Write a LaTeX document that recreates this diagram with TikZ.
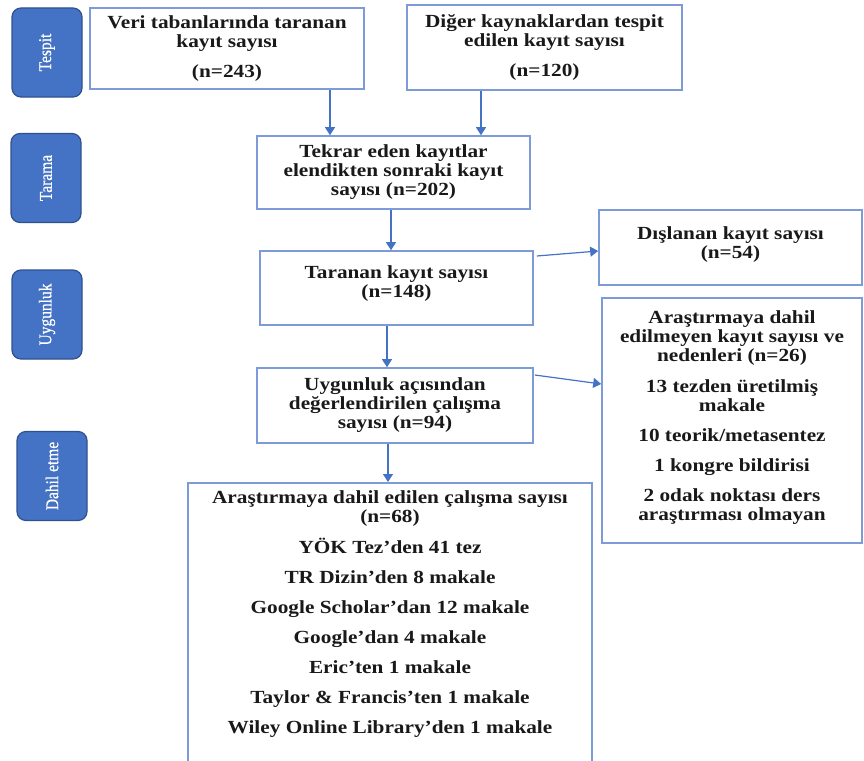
\documentclass[tikz,border=0pt]{standalone}
\usepackage{fontspec}
\setmainfont{Liberation Serif}[FakeStretch=1.15]
\newfontfamily\sidefont{Liberation Serif}[FakeStretch=0.86, FakeBold=0.6]
\usetikzlibrary{arrows.meta, positioning}
\definecolor{stageblue}{RGB}{68, 114, 196}
\definecolor{stageedge}{RGB}{47, 82, 143}
\definecolor{boxedge}{RGB}{124, 155, 216}
\definecolor{arrowblue}{RGB}{68, 114, 196}

\begin{document}
\begin{tikzpicture}[x=1pt, y=-1pt,
  stage/.style={draw=stageedge, fill=stageblue, line width=1.2pt, rounded corners=9pt, rotate=90, minimum width=89pt, minimum height=70pt, text=white, font=\sidefont\fontsize{18}{20}\selectfont},
  flowbox/.style={draw=boxedge, line width=1.6pt, align=center, inner sep=4pt, text=black!90, font=\bfseries\fontsize{18.5}{19}\selectfont},
  flowarrow/.style={draw=arrowblue, line width=1.2pt, -{Triangle[width=10pt, length=8pt]}}]

  \useasboundingbox (0,0) rectangle (864,760);

  % Stages on the left
  \node[stage] (tespit) at (47, 52.5) {Tespit};
  \node[stage] (tarama) at (46, 178) {Tarama};
  \node[stage] (uygunluk) at (47, 314.5) {Uygunluk};
  \node[stage] (dahiletme) at (52, 476) {Dahil etme};

  % Records found
  \node[flowbox, minimum width=274pt, minimum height=81pt] (kayitdb) at (227, 48.5) {Veri tabanlarında taranan\\kayıt sayısı\\[11pt](n=243)};
  \node[flowbox, minimum width=275pt, minimum height=85pt] (kayitdiger) at (544.5, 47.5) {Diğer kaynaklardan tespit\\edilen kayıt sayısı\\[11pt](n=120)};

  % Main column
  \node[flowbox, minimum width=273pt, minimum height=73pt] (tekrar) at (393.5, 172.5) {Tekrar eden kayıtlar\\elendikten sonraki kayıt\\sayısı (n=202)};
  \node[flowbox, minimum width=273pt, minimum height=74pt] (taranan) at (396.5, 288) {Taranan kayıt sayısı\\(n=148)\\[-6pt]\mbox{}};
  \node[flowbox, minimum width=276pt, minimum height=75pt] (uygun) at (395, 405.5) {Uygunluk açısından\\değerlendirilen çalışma\\sayısı (n=94)};
  \node[flowbox, minimum width=404pt, anchor=north, inner ysep=8pt] (dahil) at (390, 482) {Araştırmaya dahil edilen çalışma sayısı\\(n=68)\\[11pt]YÖK Tez’den 41 tez\\[11pt]TR Dizin’den 8 makale\\[11pt]Google Scholar’dan 12 makale\\[11pt]Google’dan 4 makale\\[11pt]Eric’ten 1 makale\\[11pt]Taylor \& Francis’ten 1 makale\\[11pt]Wiley Online Library’den 1 makale\\[30pt]\mbox{}};

  % Excluded records
  \node[flowbox, minimum width=263pt, minimum height=75pt] (dislanan) at (730.5, 247.5) {Dışlanan kayıt sayısı\\(n=54)\\[-10pt]\mbox{}};
  \node[flowbox, minimum width=260pt, minimum height=245pt] (dahilolmayan) at (732, 420.5) {Araştırmaya dahil\\edilmeyen kayıt sayısı ve\\nedenleri (n=26)\\[12pt]13 tezden üretilmiş\\makale\\[11pt]10 teorik/metasentez\\[11pt]1 kongre bildirisi\\[11pt]2 odak noktası ders\\araştırması olmayan\\[-9pt]\mbox{}};

  % Arrows
  \draw[flowarrow] ([xshift=103pt]kayitdb.south) -- ([xshift=-63.5pt]tekrar.north);
  \draw[flowarrow] ([xshift=-63.5pt]kayitdiger.south) -- ([xshift=87.5pt]tekrar.north);
  \draw[flowarrow] ([xshift=-2.5pt]tekrar.south) -- ([xshift=-5.5pt]taranan.north);
  \draw[flowarrow] ([xshift=-9.5pt]taranan.south) -- ([xshift=-8pt]uygun.north);
  \draw[flowarrow] ([xshift=-7pt]uygun.south) -- ([xshift=-2pt]dahil.north);
  \draw[flowarrow] ([xshift=3pt, yshift=32pt]taranan.east) -- ([yshift=-3.5pt]dislanan.west);
  \draw[flowarrow] ([xshift=1pt, yshift=30.5pt]uygun.east) -- ([yshift=36.5pt]dahilolmayan.west);
\end{tikzpicture}
\end{document}
